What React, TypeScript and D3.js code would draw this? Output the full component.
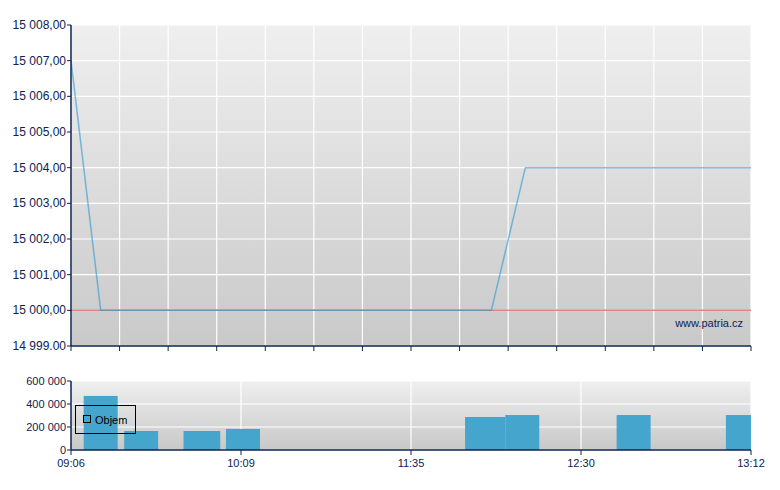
import React from 'react';
import * as d3 from 'd3';

const axisTimes = ["09:06", "10:09", "11:35", "12:30", "13:12"];
const priceTimes = ["09:06", "09:17", "12:01", "12:12", "13:12"];
const priceValues = [15007, 15000, 15000, 15004, 15004];
const prevClose = 15000;
const volumeTimes = ["09:17", "09:32", "09:54", "09:55", "10:10", "11:58", "12:00", "12:11", "12:43", "13:10"];
const volumeValues = [470000, 165000, 165000, 165000, 183000, 287000, 287000, 304000, 304000, 304000];
const priceTicks = [14999, 15000, 15001, 15002, 15003, 15004, 15005, 15006, 15007, 15008];
const priceTickLabels = ["14 999.00", "15 000,00", "15 001,00", "15 002,00", "15 003,00", "15 004,00", "15 005,00", "15 006,00", "15 007,00", "15 008,00"];
const volumeTicks = [0, 200000, 400000, 600000];
const volumeTickLabels = ["0", "200 000", "400 000", "600 000"];
const legendLabel = "Objem";
const watermark = "www.patria.cz";

const toMin = (t: string) => {
  const [h, m] = t.split(":").map(Number);
  return h * 60 + m;
};

const L = 71, R = 751;
const T1 = 25, B1 = 346;
const T2 = 381, B2 = 450;
const AX = "#0c2352";
const TXT = "#0c2352";
const FONT = "'Liberation Sans', Arial, sans-serif";

export default function App() {
  const x = d3.scaleLinear()
    .domain(axisTimes.map(toMin))
    .range(d3.range(axisTimes.length).map(i => L + (i * (R - L)) / (axisTimes.length - 1)));
  const yP = d3.scaleLinear().domain([14999, 15008]).range([B1, T1]);
  const yV = d3.scaleLinear().domain([0, 600000]).range([B2, T2]);
  const gridX = d3.scaleLinear().domain([0, 14]).range([L, R]);
  const gridIdx = d3.range(15);

  const line = d3.line<number>()
    .x((_, i) => x(toMin(priceTimes[i])))
    .y(d => yP(d));

  const barW = 34;

  return (
    <svg width={780} height={490} style={{ position: 'absolute', left: 0, top: 0, background: '#fff' }}
      fontFamily={FONT}>
      <defs>
        <linearGradient id="bg1" x1="0" y1="0" x2="0" y2="1">
          <stop offset="0" stopColor="#efefef" />
          <stop offset="1" stopColor="#c9c9c9" />
        </linearGradient>
        <linearGradient id="bg2" x1="0" y1="0" x2="0" y2="1">
          <stop offset="0" stopColor="#efefef" />
          <stop offset="1" stopColor="#c8c8c8" />
        </linearGradient>
        <clipPath id="c1"><rect x={L} y={T1} width={R - L} height={B1 - T1} /></clipPath>
        <clipPath id="c2"><rect x={L} y={T2} width={R - L} height={B2 - T2} /></clipPath>
      </defs>

      {/* top chart */}
      <rect x={L} y={T1} width={R - L} height={B1 - T1} fill="url(#bg1)" />
      {priceTicks.map(v => (
        <line key={'hg' + v} x1={L} x2={R} y1={yP(v)} y2={yP(v)} stroke="#fff" strokeWidth={1.2} />
      ))}
      {gridIdx.map(i => (
        <line key={'vg' + i} x1={gridX(i)} x2={gridX(i)} y1={T1} y2={B1} stroke="#fff" strokeWidth={1.2} />
      ))}
      <g clipPath="url(#c1)">
        <line x1={L} x2={R} y1={yP(prevClose)} y2={yP(prevClose)} stroke="#e08686" strokeWidth={1.5} />
        <path d={line(priceValues) || ''} fill="none" stroke="#2a98d2" strokeOpacity={0.6} strokeWidth={1.5} />
      </g>
      <text x={743} y={327} textAnchor="end" fontSize={11} fill={TXT}>{watermark}</text>
      <line x1={L} x2={L} y1={T1} y2={B1} stroke={AX} strokeWidth={1.5} />
      <line x1={L} x2={R} y1={B1} y2={B1} stroke={AX} strokeWidth={1.5} />
      {priceTicks.map((v, i) => (
        <g key={'pt' + v}>
          <line x1={L - 4} x2={L} y1={yP(v)} y2={yP(v)} stroke={AX} />
          <text x={L - 5} y={yP(v) + 4} textAnchor="end" fontSize={12} fill={TXT}>{priceTickLabels[i]}</text>
        </g>
      ))}
      {gridIdx.map(i => (
        <line key={'bt' + i} x1={gridX(i)} x2={gridX(i)} y1={B1} y2={B1 + 5} stroke={AX} />
      ))}

      {/* bottom chart */}
      <rect x={L} y={T2} width={R - L} height={B2 - T2} fill="url(#bg2)" />
      {volumeTicks.map(v => (
        <line key={'vhg' + v} x1={L} x2={R} y1={yV(v)} y2={yV(v)} stroke="#fff" strokeWidth={1.2} />
      ))}
      {axisTimes.slice(1).map(t => (
        <line key={'vvg' + t} x1={x(toMin(t))} x2={x(toMin(t))} y1={T2} y2={B2} stroke="#fff" strokeWidth={1.2} />
      ))}
      <g clipPath="url(#c2)">
        {volumeValues.map((v, i) => (
          <rect key={'b' + i} x={x(toMin(volumeTimes[i])) - barW / 2} width={barW}
            y={yV(v)} height={yV(0) - yV(v)} fill="#45a5cd" />
        ))}
      </g>
      <rect x={75.5} y={405.5} width={60} height={28} fill="none" stroke="#000" strokeWidth={1} />
      <rect x={83.5} y={415.5} width={7} height={7} fill="none" stroke="#000" strokeWidth={1} />
      <text x={95} y={424} fontSize={11} fill="#000">{legendLabel}</text>
      <line x1={L} x2={L} y1={T2} y2={B2} stroke={AX} strokeWidth={1.5} />
      <line x1={L} x2={R} y1={B2} y2={B2} stroke={AX} strokeWidth={1.5} />
      {volumeTicks.map((v, i) => (
        <g key={'vt' + v}>
          <line x1={L - 4} x2={L} y1={yV(v)} y2={yV(v)} stroke={AX} />
          <text x={L - 5} y={yV(v) + 4} textAnchor="end" fontSize={11} fill={TXT}>{volumeTickLabels[i]}</text>
        </g>
      ))}
      {axisTimes.map(t => (
        <g key={'xt' + t}>
          <line x1={x(toMin(t))} x2={x(toMin(t))} y1={B2} y2={B2 + 5} stroke={AX} />
          <text x={x(toMin(t))} y={467} textAnchor="middle" fontSize={11} fill={TXT}>{t}</text>
        </g>
      ))}
    </svg>
  );
}
